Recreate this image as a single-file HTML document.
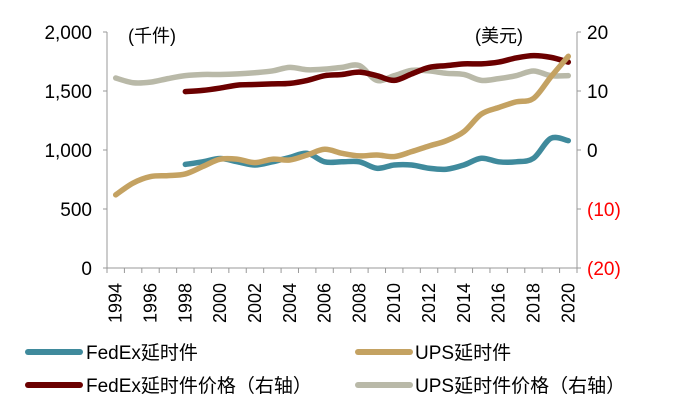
<!DOCTYPE html>
<html><head><meta charset="utf-8"><style>
html,body{margin:0;padding:0;background:#fff;}
svg{display:block;font-family:"Liberation Sans","Noto Sans CJK SC",sans-serif;}
</style></head><body>
<svg id="chart" width="691" height="416" viewBox="0 0 691 416">
<g id="axes"></g>
<g id="series"></g>
<text x="128" y="42" font-size="18">(千件)</text>
<text x="475" y="42" font-size="18">(美元)</text>
<g>
 <g><line x1="28" y1="352" x2="80" y2="352" stroke="#3f8a9c" stroke-width="6" stroke-linecap="round"/><text x="86" y="359" font-size="19">FedEx延时件</text></g>
 <g><line x1="358" y1="352" x2="410" y2="352" stroke="#c4a262" stroke-width="6" stroke-linecap="round"/><text x="415" y="359" font-size="19">UPS延时件</text></g>
 <g><line x1="28" y1="385" x2="80" y2="385" stroke="#6b0000" stroke-width="6" stroke-linecap="round"/><text x="86" y="392" font-size="19">FedEx延时件价格（右轴）</text></g>
 <g><line x1="358" y1="385" x2="410" y2="385" stroke="#b9b9a8" stroke-width="6" stroke-linecap="round"/><text x="415" y="392" font-size="19">UPS延时件价格（右轴）</text></g>
</g>
</svg>
<script>
const years=[];for(let y=1994;y<=2020;y++)years.push(y);
const leftTicks=[0,500,1000,1500,2000];
const leftTickLabels=["0","500","1,000","1,500","2,000"];
const rightTicks=[-20,-10,0,10,20];
const rightTickLabels=["(20)","(10)","0","10","20"];
const upsVolume=[620,720,775,783,797,860,922,922,893,922,915,958,1006,972,950,958,944,986,1034,1079,1155,1304,1360,1408,1437,1620,1794];
const fedexVolume=[null,null,null,null,878,900,928,900,873,900,937,972,900,900,900,845,873,873,845,837,873,930,900,900,930,1099,1079];
const fedexPrice=[null,null,null,null,9.9,10.1,10.5,11,11.1,11.2,11.3,11.8,12.6,12.8,13.2,12.6,11.8,12.9,14,14.3,14.6,14.6,14.9,15.6,16,15.7,14.9];
const upsPrice=[12.2,11.4,11.5,12.1,12.6,12.8,12.8,12.9,13.1,13.4,14,13.6,13.7,14,14.3,11.8,12.6,13.5,13.4,13,12.8,11.8,12.1,12.6,13.4,12.6,12.6];
const L=107,R=577,T=32,B=268;
const step=(R-L)/years.length;
const xs=i=>L+step*(i+0.5);
const yL=v=>B-(v/2000)*(B-T);
const yR=v=>B-((v+20)/40)*(B-T);
const NS="http://www.w3.org/2000/svg";
const axes=document.getElementById('axes'),ser=document.getElementById('series');
function mk(t,a,p){const e=document.createElementNS(NS,t);for(const k in a)e.setAttribute(k,a[k]);p.appendChild(e);return e;}
let ax=mk('line',{x1:L,y1:T,x2:L,y2:B,stroke:'#999'},axes);


ax=mk('line',{x1:R,y1:T,x2:R,y2:B,stroke:'#999'},axes);


ax=mk('line',{x1:L,y1:B,x2:R,y2:B,stroke:'#999'},axes);


leftTicks.forEach((v,i)=>{mk('line',{x1:L-4,y1:yL(v),x2:L,y2:yL(v),stroke:'#999'},axes);
 const t=mk('text',{x:92,y:yL(v)+7,'font-size':19,'text-anchor':'end'},axes);t.textContent=leftTickLabels[i];
 
 });
rightTicks.forEach((v,i)=>{mk('line',{x1:R,y1:yR(v),x2:R+4,y2:yR(v),stroke:'#999'},axes);
 const t=mk('text',{x:587,y:yR(v)+7,'font-size':19,fill:v<0?'#ff0000':'#000'},axes);t.textContent=rightTickLabels[i];
 
 });
for(let i=0;i<=years.length;i++)mk('line',{x1:L+step*i,y1:B,x2:L+step*i,y2:B+5,stroke:'#999'},axes);
years.forEach((y,i)=>{if(i%2)return;const x=xs(i);
 const t=mk('text',{x:x+6,y:283,'font-size':18,'text-anchor':'end',transform:`rotate(-90 ${x+6} 283)`},axes);t.textContent=y;
 
 });
function path(vals,yf){const p=[];vals.forEach((v,i)=>{if(v!=null)p.push([xs(i),yf(v)]);});
 let d=`M${p[0][0]},${p[0][1]}`;
 for(let i=0;i<p.length-1;i++){const p0=p[i-1]||p[i],p1=p[i],p2=p[i+1],p3=p[i+2]||p2;
  const c1=[p1[0]+(p2[0]-p0[0])/6,p1[1]+(p2[1]-p0[1])/6],c2=[p2[0]-(p3[0]-p1[0])/6,p2[1]-(p3[1]-p1[1])/6];
  d+=` C${c1[0]},${c1[1]} ${c2[0]},${c2[1]} ${p2[0]},${p2[1]}`;}
 return d;}
const defs=[[upsPrice,yR,'#b9b9a8','ups-price-line'],[fedexPrice,yR,'#6b0000','fedex-price-line'],[fedexVolume,yL,'#3f8a9c','fedex-volume-line'],[upsVolume,yL,'#c4a262','ups-volume-line']];
defs.forEach(([v,f,c,n])=>{const e=mk('path',{d:path(v,f),fill:'none',stroke:c,'stroke-width':5.5,'stroke-linecap':'round','stroke-linejoin':'round'},ser);
 
 });
</script>
</body></html>
